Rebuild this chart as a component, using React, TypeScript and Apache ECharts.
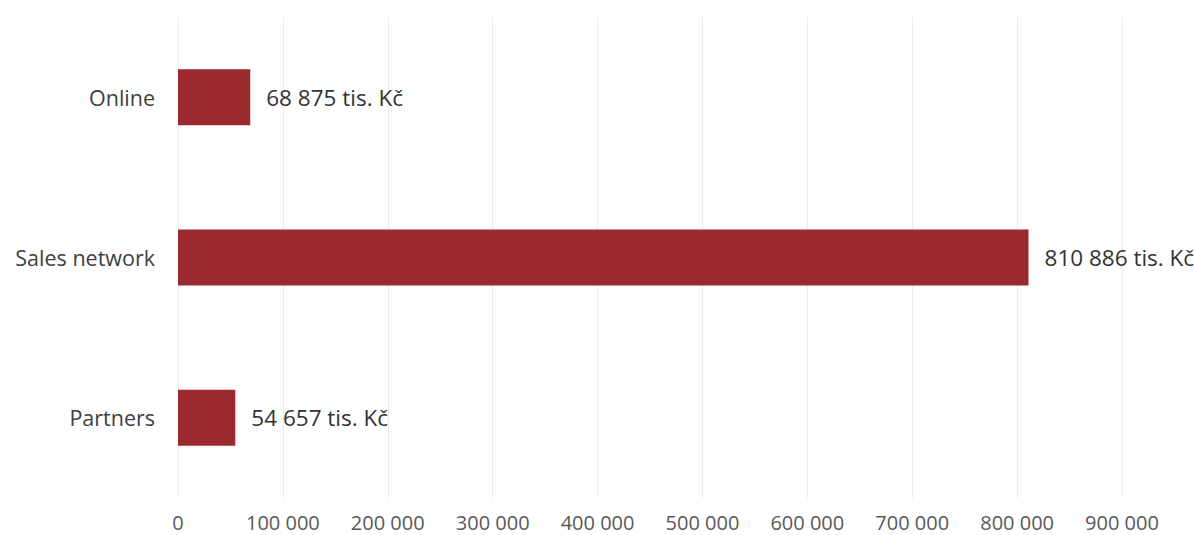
import React, { useEffect, useRef } from "react";
import * as echarts from "echarts";

const categories: string[] = ["Online", "Sales network", "Partners"];
const values: number[] = [68875, 810886, 54657];
const unitSuffix = " tis. Kč";
const axisMax = 900000;
const axisInterval = 100000;

function fmt(n: number): string {
  return String(Math.round(n)).replace(/\B(?=(\d{3})+(?!\d))/g, " ");
}

export default function App() {
  const ref = useRef<HTMLDivElement>(null);
  useEffect(() => {
    if (!ref.current) return;
    const chart = echarts.init(ref.current, undefined, { renderer: "svg" });
    const font = "'Open Sans', 'Liberation Sans', sans-serif";
    chart.setOption({
      animation: false,
      backgroundColor: "#ffffff",
      grid: { left: 178, right: 72, top: 17, bottom: 37, containLabel: false },
      xAxis: {
        type: "value",
        min: 0,
        max: axisMax,
        interval: axisInterval,
        axisLine: { show: false },
        axisTick: { show: false },
        splitLine: { show: true, lineStyle: { color: "#ececec", width: 1 } },
        axisLabel: {
          color: "#595959",
          fontFamily: font,
          fontSize: 20,
          margin: 14,
          formatter: (v: number) => fmt(v),
        },
      },
      yAxis: {
        type: "category",
        data: categories,
        inverse: true,
        axisLine: { show: false },
        axisTick: { show: false },
        splitLine: { show: false },
        axisLabel: {
          color: "#404040",
          fontFamily: font,
          fontSize: 21.5,
          margin: 23,
        },
      },
      series: [
        {
          type: "bar",
          data: values,
          barWidth: 56,
          itemStyle: { color: "#9a2a2d" },
          label: {
            show: true,
            position: "right",
            distance: 16,
            color: "#333333",
            fontFamily: font,
            fontSize: 22.5,
            formatter: (p: any) => fmt(p.value) + unitSuffix,
          },
        },
      ],
    });
    return () => chart.dispose();
  }, []);
  return (
    <div
      ref={ref}
      style={{ position: "fixed", left: 0, top: 0, width: 1194, height: 535 }}
    />
  );
}
